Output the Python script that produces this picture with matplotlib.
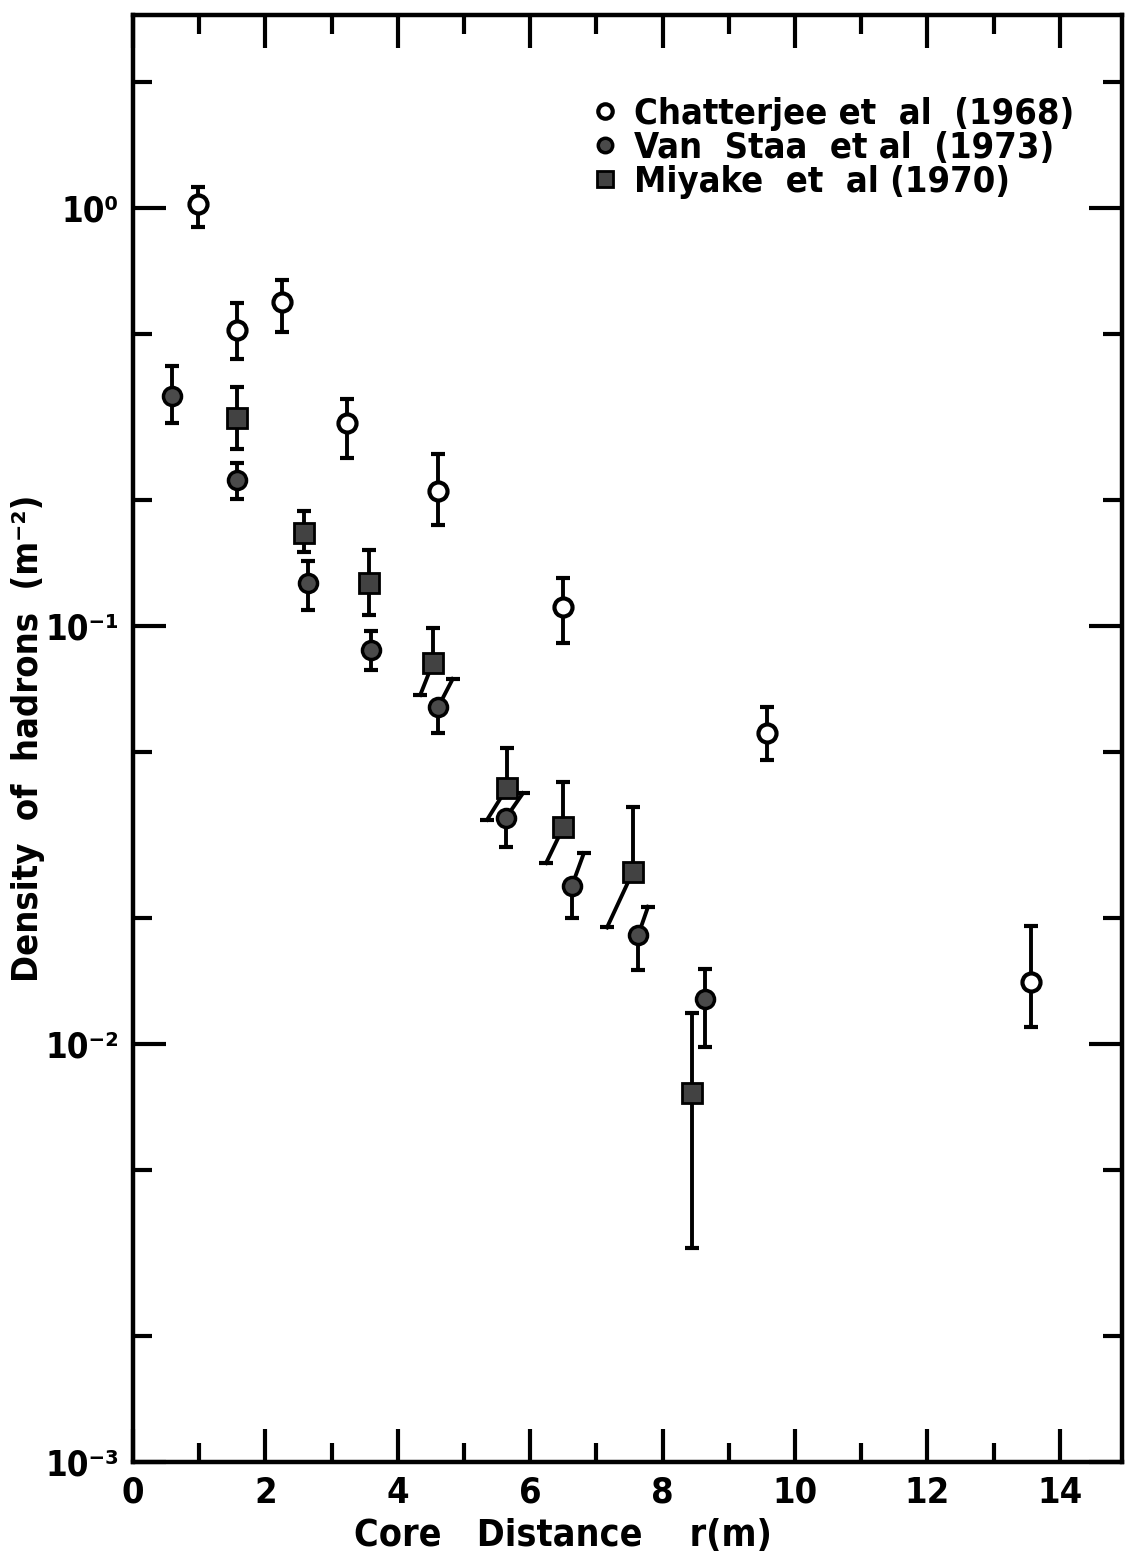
import numpy as np
import matplotlib
matplotlib.use('Agg')
from matplotlib import pyplot as plt
from matplotlib.ticker import LogLocator, MultipleLocator, NullFormatter, FuncFormatter

plt.rcParams['font.family'] = ['DejaVu Sans']
plt.rcParams['font.stretch'] = 'condensed'
plt.rcParams['font.weight'] = 'bold'
plt.rcParams['axes.labelweight'] = 'bold'

# Chatterjee et al (1968)
chat_r = [0.98, 1.57, 2.25, 3.23, 4.61, 6.50, 9.58, 13.57]
chat_rho = [1.02, 0.51, 0.596, 0.306, 0.210, 0.111, 0.0555, 0.0141]
chat_hi = [1.12, 0.593, 0.673, 0.349, 0.258, 0.130, 0.064, 0.0192]
chat_lo = [0.90, 0.435, 0.505, 0.252, 0.174, 0.091, 0.0478, 0.0110]

# Van Staa et al (1973)
vs_r = [0.59, 1.57, 2.64, 3.60, 4.61, 5.63, 6.63, 7.63, 8.64]
vs_rho = [0.355, 0.224, 0.127, 0.0877, 0.064, 0.0347, 0.0239, 0.0182, 0.0128]
vs_hi = [0.419, 0.245, 0.143, 0.0973, 0.0747, 0.0398, 0.0286, 0.0213, 0.0151]
vs_lo = [0.306, 0.201, 0.109, 0.0785, 0.0555, 0.0296, 0.0200, 0.0150, 0.00984]
# upper bars lean to the right where they would run into the Miyake points
vs_hi_r = [0.59, 1.57, 2.64, 3.60, 4.83, 5.89, 6.81, 7.78, 8.64]

# Miyake et al (1970)
miy_r = [1.57, 2.58, 3.56, 4.53, 5.65, 6.50, 7.55, 8.44]
miy_rho = [0.315, 0.167, 0.127, 0.0815, 0.0410, 0.0330, 0.0258, 0.00763]
miy_hi = [0.373, 0.188, 0.152, 0.0989, 0.0511, 0.0424, 0.0369, 0.01186]
miy_lo = [0.265, 0.150, 0.106, 0.0684, 0.0344, 0.0271, 0.0190, 0.00325]
# lower bars lean to the left
miy_lo_r = [1.57, 2.58, 3.56, 4.34, 5.35, 6.24, 7.16, 8.44]

SUP = str.maketrans('-0123456789', '⁻⁰¹²³⁴⁵⁶⁷⁸⁹')


def decade_label(v, pos):
    return '10' + str(int(round(np.log10(v)))).translate(SUP)


def draw_bars(ax, r, rho, lo, hi, lo_r=None, hi_r=None):
    if lo_r is None:
        lo_r = r
    if hi_r is None:
        hi_r = r
    for i in range(len(r)):
        ax.plot([r[i], hi_r[i]], [rho[i], hi[i]], color='k', lw=2.8, zorder=2)
        ax.plot([r[i], lo_r[i]], [rho[i], lo[i]], color='k', lw=2.8, zorder=2)
    ax.plot(hi_r, hi, ls='none', marker='_', ms=10, mew=3, color='k', zorder=2)
    ax.plot(lo_r, lo, ls='none', marker='_', ms=10, mew=3, color='k', zorder=2)


fig = plt.figure(figsize=(11.26, 15.64), dpi=100)
ax = fig.add_axes([0.118, 0.0652, 0.8786, 0.9252])

draw_bars(ax, chat_r, chat_rho, chat_lo, chat_hi)
draw_bars(ax, vs_r, vs_rho, vs_lo, vs_hi, hi_r=vs_hi_r)
draw_bars(ax, miy_r, miy_rho, miy_lo, miy_hi, lo_r=miy_lo_r)

h1, = ax.plot(chat_r, chat_rho, ls='none', marker='o', ms=13, mfc='white',
              mec='k', mew=3, zorder=3)
h2, = ax.plot(vs_r, vs_rho, ls='none', marker='o', ms=13, mfc='#4a4a4a',
              mec='k', mew=2.5, zorder=3)
h3, = ax.plot(miy_r, miy_rho, ls='none', marker='s', ms=14, mfc='#424242',
              mec='k', mew=2, zorder=3)

ax.legend([h1, h2, h3],
          ['Chatterjee et  al  (1968)', 'Van  Staa  et al  (1973)', 'Miyake  et  al (1970)'],
          loc='upper left', bbox_to_anchor=(0.448, 0.956), frameon=False,
          fontsize=26, handlelength=0.6, handletextpad=0.5, labelspacing=0.0,
          markerscale=0.8, borderpad=0)

ax.set_yscale('log')
ax.set_xlim(0, 14.94)
ax.set_ylim(1e-3, 2.895)

ax.xaxis.set_major_locator(MultipleLocator(2))
ax.xaxis.set_minor_locator(MultipleLocator(1))
ax.yaxis.set_major_locator(LogLocator(base=10, numticks=10))
ax.yaxis.set_major_formatter(FuncFormatter(decade_label))
ax.yaxis.set_minor_locator(LogLocator(base=10, subs=(2, 5), numticks=10))
ax.yaxis.set_minor_formatter(NullFormatter())

ax.tick_params(which='major', direction='in', length=24, width=3,
               top=True, right=True, labelsize=26, pad=10)
ax.tick_params(axis='y', which='major', labelsize=25)
ax.tick_params(which='minor', direction='in', length=14, width=3,
               top=True, right=True)
for s in ax.spines.values():
    s.set_linewidth(3.2)

ax.set_xlabel('Core   Distance    r(m)', fontsize=27)
ax.set_ylabel('Density  of  hadrons  (m⁻²)', fontsize=26)
ax.xaxis.set_label_coords(0.435, -0.039)
ax.yaxis.set_label_coords(-0.089, 0.5)

fig.savefig('out.png', dpi=100)
